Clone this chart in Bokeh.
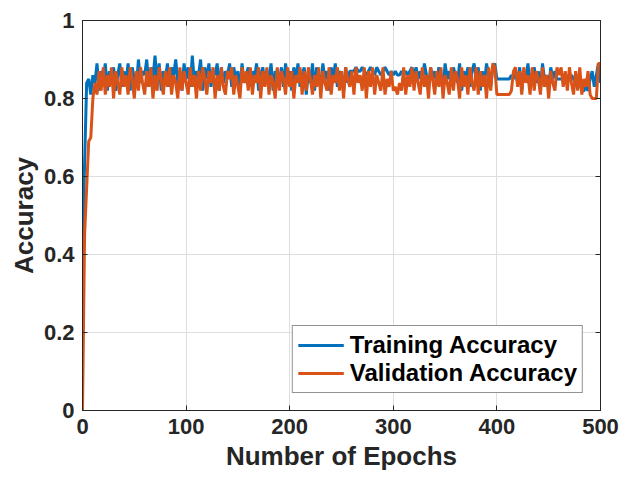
from bokeh.plotting import figure
from bokeh.models import Range1d, LinearAxis, FixedTicker, Legend, LegendItem
from bokeh.embed import file_html
from bokeh.resources import INLINE

# ---- data (one value every 2 epochs) ----
epochs = list(range(0, 501, 2))

validation_acc = [
    0.00, 0.45, 0.57, 0.69, 0.70, 0.80, 0.84, 0.81, 0.87, 0.82,
    0.88, 0.81, 0.86, 0.83, 0.88, 0.80, 0.87, 0.84, 0.81, 0.88,
    0.83, 0.86, 0.81, 0.88, 0.85, 0.80, 0.87, 0.82, 0.88, 0.84,
    0.81, 0.87, 0.83, 0.88, 0.80, 0.86, 0.82, 0.88, 0.85, 0.81,
    0.87, 0.83, 0.88, 0.81, 0.86, 0.84, 0.80, 0.88, 0.82, 0.87,
    0.84, 0.81, 0.88, 0.83, 0.86, 0.80, 0.87, 0.82, 0.88, 0.85,
    0.81, 0.87, 0.84, 0.88, 0.80, 0.86, 0.82, 0.88, 0.83, 0.81,
    0.87, 0.85, 0.88, 0.81, 0.86, 0.83, 0.80, 0.88, 0.84, 0.87,
    0.82, 0.88, 0.81, 0.86, 0.84, 0.88, 0.80, 0.87, 0.83, 0.88,
    0.81, 0.86, 0.84, 0.80, 0.88, 0.82, 0.87, 0.85, 0.81, 0.88,
    0.83, 0.87, 0.80, 0.86, 0.84, 0.88, 0.81, 0.87, 0.82, 0.88,
    0.85, 0.81, 0.86, 0.83, 0.88, 0.80, 0.87, 0.84, 0.82, 0.88,
    0.81, 0.86, 0.84, 0.88, 0.82, 0.87, 0.80, 0.88, 0.85, 0.83,
    0.87, 0.81, 0.88, 0.84, 0.86, 0.82, 0.88, 0.80, 0.87, 0.83,
    0.88, 0.81, 0.86, 0.84, 0.82, 0.88, 0.81, 0.85, 0.83, 0.87,
    0.82, 0.83, 0.81, 0.84, 0.82, 0.88, 0.81, 0.86, 0.83, 0.88,
    0.82, 0.87, 0.84, 0.81, 0.88, 0.83, 0.86, 0.80, 0.88, 0.85,
    0.81, 0.87, 0.83, 0.88, 0.80, 0.86, 0.84, 0.81, 0.88, 0.82,
    0.87, 0.85, 0.80, 0.88, 0.83, 0.86, 0.81, 0.88, 0.84, 0.82,
    0.88, 0.81, 0.87, 0.83, 0.86, 0.80, 0.88, 0.82, 0.89, 0.88,
    0.81, 0.81, 0.81, 0.81, 0.81, 0.81, 0.81, 0.82, 0.87, 0.88,
    0.83, 0.87, 0.81, 0.88, 0.84, 0.86, 0.81, 0.88, 0.82, 0.87,
    0.85, 0.81, 0.88, 0.83, 0.86, 0.80, 0.87, 0.84, 0.82, 0.88,
    0.86, 0.88, 0.83, 0.87, 0.82, 0.88, 0.84, 0.81, 0.87, 0.82,
    0.88, 0.81, 0.85, 0.83, 0.87, 0.81, 0.80, 0.80, 0.80, 0.89,
    0.89,
]

training_acc = [
    0.42, 0.63, 0.84, 0.85, 0.81, 0.86, 0.84, 0.89, 0.82, 0.87,
    0.85, 0.89, 0.82, 0.87, 0.84, 0.88, 0.82, 0.86, 0.89, 0.83,
    0.87, 0.84, 0.89, 0.82, 0.88, 0.85, 0.83, 0.90, 0.84, 0.87,
    0.86, 0.90, 0.83, 0.88, 0.85, 0.91, 0.84, 0.89, 0.82, 0.87,
    0.85, 0.89, 0.83, 0.88, 0.86, 0.90, 0.84, 0.87, 0.82, 0.89,
    0.85, 0.88, 0.83, 0.91, 0.84, 0.87, 0.86, 0.90, 0.82, 0.88,
    0.85, 0.89, 0.83, 0.87, 0.86, 0.89, 0.82, 0.88, 0.84, 0.87,
    0.86, 0.89, 0.83, 0.88, 0.85, 0.87, 0.82, 0.89, 0.84, 0.86,
    0.88, 0.83, 0.87, 0.85, 0.89, 0.82, 0.86, 0.88, 0.84, 0.87,
    0.85, 0.89, 0.82, 0.87, 0.86, 0.84, 0.88, 0.83, 0.89, 0.85,
    0.87, 0.82, 0.88, 0.85, 0.89, 0.83, 0.86, 0.88, 0.81, 0.87,
    0.84, 0.89, 0.82, 0.88, 0.86, 0.83, 0.89, 0.85, 0.87, 0.82,
    0.88, 0.85, 0.89, 0.83, 0.87, 0.86, 0.82, 0.88, 0.84, 0.87,
    0.87, 0.87, 0.88, 0.87, 0.87, 0.88, 0.87, 0.86, 0.87, 0.88,
    0.87, 0.86, 0.88, 0.87, 0.86, 0.87, 0.88, 0.87, 0.86, 0.87,
    0.86, 0.87, 0.86, 0.86, 0.87, 0.86, 0.87, 0.86, 0.87, 0.88,
    0.86, 0.88, 0.85, 0.87, 0.84, 0.89, 0.86, 0.83, 0.88, 0.85,
    0.87, 0.84, 0.88, 0.86, 0.82, 0.89, 0.85, 0.87, 0.83, 0.88,
    0.86, 0.84, 0.89, 0.82, 0.87, 0.85, 0.88, 0.83, 0.87, 0.89,
    0.85, 0.88, 0.82, 0.87, 0.84, 0.89, 0.86, 0.83, 0.88, 0.89,
    0.85, 0.85, 0.85, 0.85, 0.85, 0.85, 0.85, 0.86, 0.85, 0.87,
    0.84, 0.88, 0.82, 0.87, 0.85, 0.89, 0.83, 0.86, 0.88, 0.84,
    0.87, 0.82, 0.89, 0.85, 0.86, 0.83, 0.88, 0.85, 0.87, 0.85,
    0.85, 0.85, 0.85, 0.86, 0.85, 0.85, 0.86, 0.85, 0.84, 0.86,
    0.84, 0.82, 0.82, 0.83, 0.82, 0.85, 0.87, 0.83, 0.86, 0.89,
    0.84,
]

x_ticks = [0, 100, 200, 300, 400, 500]
y_ticks = [0, 0.2, 0.4, 0.6, 0.8, 1]
x_label = "Number of Epochs"
y_label = "Accuracy"
series_names = ["Training Accuracy", "Validation Accuracy"]

BLUE = "#0072BD"
ORANGE = "#D95319"
DARK = "#262626"
FONT = "Liberation Sans"

p = figure(width=625, height=477, output_backend="svg", toolbar_location=None,
           x_range=Range1d(0, 500), y_range=Range1d(0, 1),
           min_border_left=82, min_border_right=25, min_border_top=20,
           min_border_bottom=67)
p.background_fill_color = "white"
p.border_fill_color = "white"
p.outline_line_color = DARK
p.outline_line_width = 1

r_train = p.line(epochs, training_acc, line_color=BLUE, line_width=3)
r_val = p.line(epochs, validation_acc, line_color=ORANGE, line_width=3)

for ax, ticks in ((p.xaxis[0], x_ticks), (p.yaxis[0], y_ticks)):
    ax.ticker = FixedTicker(ticks=ticks)
    ax.major_label_text_font = FONT
    ax.major_label_text_font_style = "bold"
    ax.major_label_text_font_size = "22px"
    ax.major_label_text_color = DARK
    ax.axis_label_text_font = FONT
    ax.axis_label_text_font_style = "bold"
    ax.axis_label_text_font_size = "26px"
    ax.axis_label_text_color = DARK
    ax.axis_line_color = DARK
    ax.major_tick_line_color = DARK
    ax.major_tick_in = 5
    ax.major_tick_out = 0
    ax.minor_tick_line_color = None

p.xaxis[0].axis_label = x_label
p.yaxis[0].axis_label = y_label
p.xaxis[0].major_label_standoff = 8
p.yaxis[0].major_label_standoff = 8
p.xaxis[0].axis_label_standoff = 4
p.yaxis[0].axis_label_standoff = 2

# mirrored tick marks on top and right (box look), without labels
top = LinearAxis(ticker=FixedTicker(ticks=x_ticks),
                 major_label_overrides={t: "" for t in x_ticks},
                 major_tick_in=5, major_tick_out=0, minor_tick_line_color=None,
                 axis_line_color=DARK, major_tick_line_color=DARK,
                 major_label_standoff=0)
right = LinearAxis(ticker=FixedTicker(ticks=y_ticks),
                   major_label_overrides={t: "" for t in y_ticks},
                   major_tick_in=5, major_tick_out=0, minor_tick_line_color=None,
                   axis_line_color=DARK, major_tick_line_color=DARK,
                   major_label_standoff=0)
p.add_layout(top, "above")
p.add_layout(right, "right")

p.xgrid.ticker = FixedTicker(ticks=x_ticks)
p.ygrid.ticker = FixedTicker(ticks=y_ticks)
p.grid.grid_line_color = "#dedede"
p.grid.grid_line_width = 1

legend = Legend(items=[LegendItem(label=series_names[0], renderers=[r_train]),
                       LegendItem(label=series_names[1], renderers=[r_val])],
                location="bottom_right")
legend.margin = 17
legend.padding = 5
legend.spacing = 0
legend.glyph_width = 46
legend.glyph_height = 28
legend.label_standoff = 6
legend.label_height = 28
legend.label_text_font = FONT
legend.label_text_font_style = "bold"
legend.label_text_font_size = "24px"
legend.label_text_color = "black"
legend.border_line_color = DARK
legend.border_line_width = 1
legend.background_fill_color = "white"
legend.background_fill_alpha = 1
p.add_layout(legend, "center")

open("out.html", "w").write(file_html(p, INLINE))
